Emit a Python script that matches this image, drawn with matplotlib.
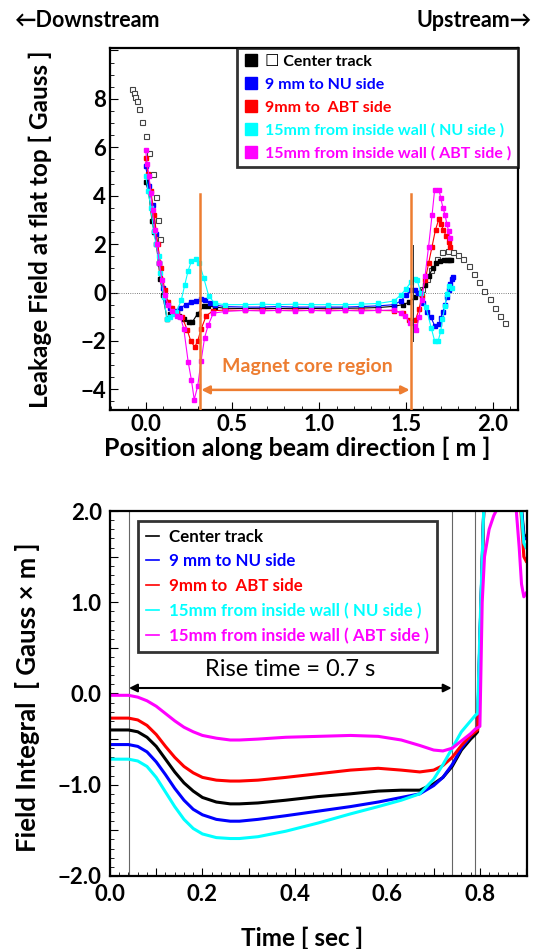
import matplotlib
matplotlib.use("Agg")
import matplotlib.pyplot as plt
from matplotlib.lines import Line2D
from matplotlib.ticker import MultipleLocator, FuncFormatter

plt.rcParams['font.family'] = ['Lato', 'DejaVu Sans']
plt.rcParams['font.weight'] = 'bold'
plt.rcParams['axes.unicode_minus'] = True

# ---- top panel: leakage field along beam direction ----
black_x = [0.0, 0.017, 0.037, 0.05, 0.062, 0.075, 0.085, 0.10, 0.123, 0.14, 0.16, 0.19, 0.22, 0.25, 0.268,
           0.30, 0.335, 0.36, 0.40, 0.46, 0.57, 0.67, 0.76, 0.86, 0.95, 1.05, 1.15, 1.24, 1.34, 1.43, 1.48,
           1.52, 1.55, 1.58, 1.607, 1.63, 1.655, 1.675, 1.694, 1.717, 1.736, 1.75, 1.76]
black_y = [4.55, 4.2, 2.95, 2.5, 2.0, 1.2, 0.55, -0.1, -1.08, -0.9, -0.85, -0.95, -1.1, -1.23, -1.23,
           -0.87, -0.57, -0.55, -0.6, -0.65, -0.66, -0.65, -0.66, -0.65, -0.66, -0.65, -0.65, -0.64, -0.62, -0.57, -0.5,
           -0.4, -0.2, 0.0, 0.3, 0.7, 1.0, 1.2, 1.3, 1.34, 1.34, 1.35, 1.36]

blue_x = [0.0, 0.02, 0.04, 0.06, 0.08, 0.10, 0.12, 0.14, 0.16, 0.18, 0.20, 0.23, 0.26, 0.29, 0.32, 0.34, 0.37,
          0.40, 0.46, 0.57, 0.67, 0.76, 0.86, 0.95, 1.05, 1.15, 1.24, 1.34, 1.43, 1.47, 1.50, 1.53, 1.55, 1.57,
          1.60, 1.62, 1.642, 1.665, 1.69, 1.70, 1.713, 1.725, 1.735, 1.745, 1.755, 1.765, 1.772]
blue_y = [5.24, 4.4, 3.6, 2.4, 1.2, 0.2, -0.4, -0.65, -0.75, -0.78, -0.65, -0.5, -0.4, -0.33, -0.28, -0.3, -0.42,
          -0.52, -0.58, -0.6, -0.6, -0.58, -0.6, -0.6, -0.6, -0.6, -0.58, -0.55, -0.5, -0.35, -0.1, 0.12, 0.12, 0.0,
          -0.45, -0.8, -1.0, -1.37, -1.3, -1.05, -0.8, -0.5, -0.2, 0.1, 0.35, 0.55, 0.65]

cyan_x = [0.0, 0.015, 0.03, 0.046, 0.06, 0.075, 0.085, 0.104, 0.123, 0.14, 0.16, 0.178, 0.206, 0.225, 0.245,
          0.264, 0.29, 0.31, 0.335, 0.364, 0.40, 0.46, 0.57, 0.67, 0.76, 0.86, 0.95, 1.05, 1.15, 1.24, 1.34, 1.43,
          1.47, 1.50, 1.53, 1.55, 1.565, 1.585, 1.615, 1.645, 1.665, 1.685, 1.70, 1.71, 1.725, 1.735, 1.75, 1.765]
cyan_y = [4.83, 4.2, 3.5, 2.55, 2.0, 1.5, 0.8, -0.2, -1.08, -1.0, -0.9, -0.8, -0.3, 0.3, 0.9,
          1.3, 1.4, 1.2, 0.6, -0.15, -0.45, -0.5, -0.5, -0.48, -0.5, -0.48, -0.5, -0.5, -0.5, -0.48, -0.45, -0.35,
          -0.1, 0.15, 0.45, 0.55, 0.5, 0.0, -0.6, -1.45, -2.0, -2.0, -1.6, -1.1, -0.55, -0.05, 0.25, 0.2]

red_x = [0.0, 0.015, 0.03, 0.05, 0.07, 0.09, 0.11, 0.13, 0.15, 0.18, 0.21, 0.24, 0.26, 0.283, 0.30, 0.32, 0.35,
         0.39, 0.46, 0.57, 0.67, 0.76, 0.86, 0.95, 1.05, 1.15, 1.24, 1.34, 1.43, 1.48, 1.518, 1.554, 1.575, 1.59,
         1.61, 1.63, 1.65, 1.67, 1.69, 1.70, 1.715, 1.73, 1.745, 1.755]
red_y = [5.55, 4.9, 4.2, 3.2, 2.0, 1.0, 0.1, -0.4, -0.65, -0.85, -1.0, -1.55, -2.0, -2.25, -2.0, -1.5, -0.95,
         -0.75, -0.72, -0.74, -0.72, -0.74, -0.72, -0.74, -0.72, -0.74, -0.72, -0.74, -0.75, -0.84, -1.14, -1.14, -0.7, -0.15,
         0.5, 1.2, 1.9, 2.6, 3.05, 2.85, 2.6, 2.35, 2.1, 1.9]

magenta_x = [0.0, 0.01, 0.02, 0.03, 0.04, 0.053, 0.065, 0.08, 0.095, 0.11, 0.13, 0.15, 0.18, 0.20, 0.22, 0.245,
             0.264, 0.28, 0.30, 0.32, 0.34, 0.36, 0.39, 0.46, 0.57, 0.67, 0.76, 0.86, 0.95, 1.05, 1.15, 1.24, 1.34,
             1.43, 1.47, 1.497, 1.524, 1.549, 1.56, 1.575, 1.59, 1.61, 1.63, 1.65, 1.665, 1.69, 1.70, 1.713, 1.725,
             1.735, 1.745, 1.755]
magenta_y = [5.88, 5.3, 4.8, 4.1, 3.4, 2.6, 2.0, 1.2, 0.5, -0.1, -0.5, -0.75, -0.95, -1.0, -1.5, -2.85,
             -3.62, -4.42, -3.87, -2.81, -1.86, -1.36, -0.85, -0.78, -0.74, -0.76, -0.74, -0.76, -0.74, -0.76, -0.74, -0.76, -0.74,
             -0.72, -0.85, -0.98, -1.26, -1.4, -1.56, -1.0, -0.3, 0.7, 1.9, 3.2, 4.25, 4.25, 3.9, 3.5, 3.2,
             2.85, 2.55, 2.25]

# center track, extended measurement (open squares)
open_x = [-0.079, -0.069, -0.06, -0.05, -0.039, -0.021, 0.0, 0.019, 0.042, 0.058, 0.072, 0.085,
          1.595, 1.62, 1.645, 1.68, 1.707, 1.742, 1.771, 1.80, 1.829, 1.86, 1.89, 1.921, 1.952, 1.983,
          2.013, 2.044, 2.069]
open_y = [8.42, 8.26, 8.09, 7.9, 7.58, 7.05, 6.46, 5.78, 4.9, 3.93, 3.0, 2.2,
          0.15, 0.55, 0.95, 1.40, 1.66, 1.71, 1.69, 1.55, 1.37, 1.09, 0.78, 0.43, 0.08, -0.26,
          -0.62, -0.98, -1.26]

core_start, core_end = 0.316, 1.526

# ---- bottom panel: field integral vs time ----
t_black = [0.0, 0.04, 0.06, 0.08, 0.10, 0.12, 0.14, 0.16, 0.18, 0.20, 0.23, 0.26, 0.28, 0.32, 0.38, 0.45, 0.52,
           0.58, 0.63, 0.67, 0.70, 0.72, 0.74, 0.76, 0.78, 0.79, 0.795, 0.80, 0.81, 0.85, 0.885, 0.895, 0.90]
fi_black = [-0.40, -0.40, -0.42, -0.48, -0.58, -0.72, -0.86, -0.98, -1.07, -1.14, -1.19, -1.21, -1.21, -1.20, -1.17,
            -1.13, -1.10, -1.07, -1.06, -1.06, -0.99, -0.92, -0.80, -0.62, -0.50, -0.45, -0.42, 0.6, 2.3, 2.4, 2.3, 1.75, 1.7]
fi_blue = [-0.56, -0.56, -0.58, -0.64, -0.75, -0.89, -1.04, -1.17, -1.27, -1.33, -1.38, -1.40, -1.40, -1.38, -1.34,
           -1.29, -1.24, -1.19, -1.14, -1.10, -1.01, -0.92, -0.78, -0.60, -0.47, -0.40, -0.37, 0.6, 2.3, 2.4, 2.3, 1.7, 1.7]
fi_red = [-0.27, -0.27, -0.29, -0.35, -0.45, -0.58, -0.70, -0.80, -0.87, -0.92, -0.95, -0.96, -0.96, -0.95, -0.92,
          -0.88, -0.84, -0.82, -0.84, -0.86, -0.84, -0.79, -0.70, -0.57, -0.46, -0.42, -0.40, 0.5, 2.3, 2.4, 2.3, 1.5, 1.45]
fi_cyan = [-0.72, -0.72, -0.74, -0.80, -0.92, -1.08, -1.24, -1.38, -1.48, -1.54, -1.58, -1.59, -1.59, -1.57, -1.51,
           -1.42, -1.32, -1.24, -1.17, -1.10, -0.94, -0.78, -0.60, -0.42, -0.30, -0.24, -0.22, 0.7, 2.3, 2.4, 2.3, 1.65, 1.6]
t_mag = [0.0, 0.04, 0.06, 0.08, 0.10, 0.12, 0.14, 0.16, 0.18, 0.20, 0.23, 0.26, 0.28, 0.32, 0.38, 0.45, 0.52,
         0.58, 0.63, 0.67, 0.70, 0.72, 0.74, 0.76, 0.78, 0.79, 0.80, 0.805, 0.81, 0.82, 0.83, 0.84, 0.86, 0.878,
         0.885, 0.89, 0.895, 0.90]
fi_mag = [-0.02, -0.02, -0.04, -0.08, -0.14, -0.22, -0.30, -0.37, -0.42, -0.46, -0.49, -0.51, -0.51, -0.50, -0.48,
          -0.47, -0.46, -0.47, -0.51, -0.57, -0.62, -0.63, -0.60, -0.52, -0.44, -0.39, -0.36, 1.0, 1.5, 1.8, 1.95,
          2.05, 2.1, 2.05, 1.6, 1.2, 1.06, 1.1]

rise_start, rise_end, pulse_end = 0.041, 0.739, 0.79

C_BLUE, C_RED, C_CYAN, C_MAG = '#0000ff', '#ff0000', '#00ffff', '#ff00ff'
ORANGE = '#ed7d31'

labels = ["Center track", "9 mm to NU side", "9mm to  ABT side",
          "15mm from inside wall ( NU side )", "15mm from inside wall ( ABT side )"]
colors = ['black', C_BLUE, C_RED, C_CYAN, C_MAG]

TICK_FS = 16

fig = plt.figure(figsize=(5.34, 9.49), dpi=100)

# ===== top =====
ax1 = fig.add_axes([0.206, 0.568, 0.764, 0.3814])
ax1.axhline(0, color='#555555', lw=0.6, ls=':')
series = [(black_x, black_y, 'black'), (blue_x, blue_y, C_BLUE), (red_x, red_y, C_RED),
          (cyan_x, cyan_y, C_CYAN), (magenta_x, magenta_y, C_MAG)]
for xs, ys, c in series:
    ax1.plot(xs, ys, color=c, lw=0.8, marker='s', ms=3.3, mec=c, mfc=c, zorder=3)
ax1.plot(open_x, open_y, ls='none', marker='s', ms=3.6, mfc='white', mec='#444444', mew=0.8, zorder=2)

ax1.plot([core_start, core_start], [4.05, -4.85], color=ORANGE, lw=1.8, zorder=4)
ax1.plot([core_end, core_end], [4.05, -4.85], color=ORANGE, lw=1.8, zorder=4)
ax1.plot([1.54, 1.54], [1.95, -2.0], color='#333333', lw=0.7, zorder=4)
ax1.annotate('', xy=(core_start + 0.005, -4.02), xytext=(core_end - 0.005, -4.02),
             arrowprops=dict(arrowstyle='<|-|>', color=ORANGE, lw=1.8, mutation_scale=12, shrinkA=0, shrinkB=0))
ax1.text(0.93, -3.05, "Magnet core region", color=ORANGE, fontsize=14, ha='center', va='center', fontweight='bold')

ax1.set_xlim(-0.205, 2.145)
ax1.set_ylim(-4.85, 10.1)
ax1.xaxis.set_major_locator(MultipleLocator(0.5))
ax1.xaxis.set_minor_locator(MultipleLocator(0.1))
ax1.yaxis.set_major_locator(MultipleLocator(2))
ax1.yaxis.set_minor_locator(MultipleLocator(0.5))
ax1.xaxis.set_major_formatter(FuncFormatter(lambda v, p: f"{v:.1f}"))
ax1.yaxis.set_major_formatter(FuncFormatter(
    lambda v, p: f"{v:.0f}".replace('-', '\u2212') if v < 9 else ""))
ax1.set_xlabel("Position along beam direction [ m ]", fontsize=18, fontweight='bold')
ax1.xaxis.set_label_coords(0.46, -0.074)
ax1.set_ylabel("Leakage Field at flat top [ Gauss ]", fontsize=17.5, fontweight='bold')
ax1.yaxis.set_label_coords(-0.142, 0.5)

handles = [Line2D([], [], ls='none', marker='s', ms=8.5, mfc=c, mec=c) for c in colors]
labels_top = ["\u2610 " + labels[0]] + labels[1:]
leg1 = ax1.legend(handles, labels_top, loc='upper right', bbox_to_anchor=(1.0, 1.0), borderaxespad=0,
                  fontsize=11.5, frameon=True, fancybox=False, handlelength=0.9, handletextpad=0.45,
                  labelspacing=0.55, borderpad=0.4)
leg1.get_frame().set_edgecolor('black')
leg1.get_frame().set_linewidth(2)
for txt, c in zip(leg1.get_texts(), colors):
    txt.set_color(c)
    txt.set_fontweight('bold')

# ===== bottom =====
ax2 = fig.add_axes([0.206, 0.077, 0.781, 0.3845])
for xv in (rise_start, rise_end, pulse_end):
    ax2.axvline(xv, color='#666666', lw=0.8)
ax2.plot(t_black, fi_black, color='black', lw=2.2)
ax2.plot(t_black, fi_blue, color=C_BLUE, lw=2.2)
ax2.plot(t_black, fi_red, color=C_RED, lw=2.2)
ax2.plot(t_black, fi_cyan, color=C_CYAN, lw=2.2)
ax2.plot(t_mag, fi_mag, color=C_MAG, lw=2.2)

ax2.annotate('', xy=(rise_start, 0.06), xytext=(rise_end, 0.06),
             arrowprops=dict(arrowstyle='<|-|>', color='black', lw=1.5, mutation_scale=12, shrinkA=0, shrinkB=0))
ax2.text(0.39, 0.26, "Rise time = 0.7 s", fontsize=17, ha='center', va='center', fontweight='normal')

ax2.set_xlim(0, 0.902)
ax2.set_ylim(-2, 2)
ax2.xaxis.set_major_locator(MultipleLocator(0.1))
ax2.xaxis.set_minor_locator(MultipleLocator(0.02))
ax2.yaxis.set_major_locator(MultipleLocator(0.5))
ax2.yaxis.set_minor_locator(MultipleLocator(0.1))
ax2.xaxis.set_major_formatter(FuncFormatter(lambda v, p: f"{v:.1f}" if round(v * 10) % 2 == 0 else ""))
ax2.yaxis.set_major_formatter(FuncFormatter(
    lambda v, p: f"{v:.1f}".replace('-', '\u2212') if abs(v - round(v)) < 1e-6 else ""))
ax2.set_xlabel("Time [ sec ]", fontsize=17.5, fontweight='bold')
ax2.xaxis.set_label_coords(0.46, -0.14)
ax2.set_ylabel("Field Integral  [ Gauss \u00d7 m ]", fontsize=18.5, fontweight='bold')
ax2.yaxis.set_label_coords(-0.168, 0.49)

lhandles = [Line2D([], [], color=c, lw=1.2) for c in colors]
leg2 = ax2.legend(lhandles, labels, loc='upper left', bbox_to_anchor=(0.067, 0.973), borderaxespad=0,
                  fontsize=12.2, frameon=True, fancybox=False, handlelength=0.8, handletextpad=0.6,
                  labelspacing=0.52, borderpad=0.45)
leg2.get_frame().set_edgecolor('black')
leg2.get_frame().set_linewidth(2)
for txt, c in zip(leg2.get_texts(), colors):
    txt.set_color(c)
    txt.set_fontweight('bold')

for ax in (ax1, ax2):
    ax.tick_params(which='both', direction='in', top=False, right=False, labelsize=TICK_FS, pad=3)
    ax.tick_params(which='major', length=6, width=0.8)
    ax.tick_params(which='minor', length=3, width=0.6)
    for s in ax.spines.values():
        s.set_linewidth(1.6)
    for lab in ax.get_xticklabels() + ax.get_yticklabels():
        lab.set_fontweight('bold')
ax2.tick_params(axis='x', which='both', pad=6)
ax2.tick_params(axis='y', which='both', pad=6)

fig.text(0.028, 0.978, "\u2190Downstream", fontsize=15.5, fontweight='bold', ha='left', va='center')
fig.text(0.995, 0.978, "Upstream\u2192", fontsize=15.5, fontweight='bold', ha='right', va='center')

fig.savefig("out.png", dpi=100)
